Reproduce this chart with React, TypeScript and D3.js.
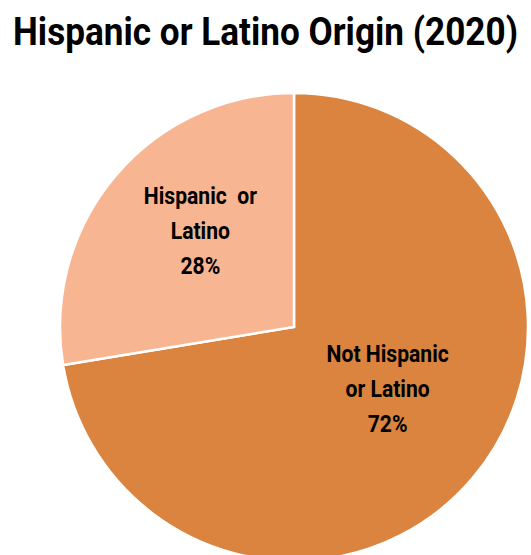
import React from "react";
import * as d3 from "d3";

const title = "Hispanic or Latino Origin (2020)";
const categories = ["Not Hispanic or Latino", "Hispanic or Latino"];
const labelLines = [["Not Hispanic", "or Latino"], ["Hispanic  or", "Latino"]];
const values = [72.4, 27.6];
const colors = ["#DA843F", "#F8B592"];

const W = 531, H = 555;
const cx = 294, cy = 327, R = 234;
const FONT = "Roboto, 'Liberation Sans', sans-serif";

export default function App() {
  const pie = d3.pie<number>().sort(null).value((d) => d);
  const arcs = pie(values);
  const arc = d3.arc<d3.PieArcDatum<number>>().innerRadius(0).outerRadius(R);
  const labelArc = d3.arc<d3.PieArcDatum<number>>().innerRadius(0).outerRadius(R * 1.05);
  const total = d3.sum(values);
  return (
    <svg width={W} height={H} style={{ position: "absolute", left: 0, top: 0 }}>
      <rect width={W} height={H} fill="#fff" />
      <g transform={`translate(${W / 2},45) scale(0.925,1)`}>
        <text textAnchor="middle" fontFamily={FONT} fontWeight="bold" fontSize={38} fill="#000">
          {title}
        </text>
      </g>
      <g transform={`translate(${cx},${cy})`}>
        {arcs.map((a, i) => (
          <path key={categories[i]} d={arc(a) || ""} fill={colors[i]} stroke="#fff" strokeWidth={2.5} />
        ))}
        {arcs.map((a, i) => {
          const [lx, ly] = labelArc.centroid(a);
          const lines = [...labelLines[i], `${Math.round((values[i] / total) * 100)}%`];
          const lh = 35;
          return (
            <g key={"l" + i} transform={`translate(${lx},${ly}) scale(0.88,1)`}>
              {lines.map((t, j) => (
                <text
                  key={j}
                  x={0}
                  y={(j - 1) * lh - 9}
                  textAnchor="middle"
                  fontFamily={FONT}
                  fontWeight="bold"
                  fontSize={24}
                  fill="#000"
                  style={{ whiteSpace: "pre" }}
                >
                  {t}
                </text>
              ))}
            </g>
          );
        })}
      </g>
    </svg>
  );
}
